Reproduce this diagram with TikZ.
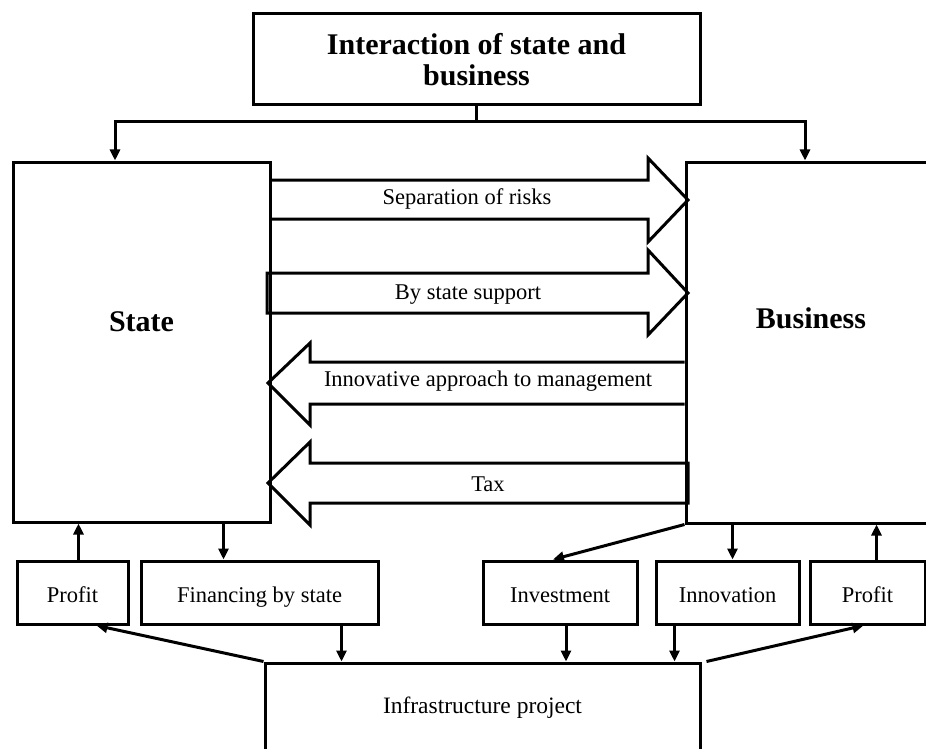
\documentclass[tikz,border=0pt]{standalone}
\usepackage{fontspec}
\setmainfont{Liberation Serif}
\usetikzlibrary{arrows.meta,positioning,calc}

\begin{document}
\begin{tikzpicture}[x=1pt, y=-1pt,
  box/.style={draw, line width=3pt, inner sep=0pt, minimum height=63pt,
    text height=20pt, text depth=0pt, font=\fontsize{22.5}{26}\selectfont},
  bigbox/.style={draw, line width=3pt, inner sep=0pt},
  biglbl/.style={font=\fontsize{30}{33}\selectfont\bfseries, inner sep=0pt},
  lbl/.style={font=\fontsize{22.5}{26}\selectfont, inner sep=0pt},
  flow/.style={line width=3pt, line join=miter},
  arr/.style={-{Triangle[length=11pt,width=10pt]}, line width=3pt}
]
\useasboundingbox (0,0) rectangle (926,749);
\clip (0,0) rectangle (926,749);

% top and the two sides
\node[bigbox, minimum width=447pt, minimum height=91pt, align=center,
  font=\fontsize{30}{31}\selectfont\bfseries] (title) at (476.5,59.5)
  {Interaction of state and\\business};
\node[bigbox, minimum width=257pt, minimum height=360pt] (state) at (141.5,342) {};
\node[bigbox, minimum width=250pt, minimum height=361pt] (business) at (811,342.5) {};
\node[biglbl] (statelbl) at (141.5,322) {State};
\node[biglbl] (buslbl) at (811,318) {Business};

\coordinate (brl) at (115,122);
\coordinate (brr) at (805,122);
\draw[arr] (title.south) |- (brl) -- (brl |- state.north);
\draw[arr] (title.south) |- (brr) -- (brr |- business.north);

% block arrows between state and business
\draw[flow] (state.east |- 0,180) -- (648,180) -- (648,158) -- (688,200)
  -- (648,242) -- (648,219) -- (state.east |- 0,219);
\draw[flow] (267,273) -- (648,273) -- (648,250) -- (688,293)
  -- (648,335) -- (648,313) -- (267,313) -- cycle;
\draw[flow] (business.west |- 0,362) -- (310,362) -- (310,343) -- (268,383)
  -- (310,425) -- (310,404) -- (business.west |- 0,404);
\draw[flow] (688,463) -- (310,463) -- (310,442) -- (268,483)
  -- (310,525) -- (310,503) -- (688,503) -- cycle;
\node[lbl] (risks) at (467,199) {Separation of risks};
\node[lbl] (support) at (468,295) {By state support};
\node[lbl] (manage) at (488,381) {Innovative approach to management};
\node[lbl] (tax) at (488,484) {Tax};

% lower row
\node[box, minimum width=111pt] (profitl) at (72.5,592.5) {Profit};
\node[box, minimum width=237pt] (finance) at (259.5,592.5) {Financing by state};
\node[box, minimum width=154pt] (invest) at (560,592.5) {Investment};
\node[box, minimum width=143pt] (innov) at (727.5,592.5) {Innovation};
\node[box, minimum width=115pt] (profitr) at (867.5,592.5) {Profit};
\node[bigbox, minimum width=435pt, minimum height=90pt,
  font=\fontsize{23.5}{27}\selectfont] (infra) at (482.5,708) {Infrastructure project};

\draw[arr] ([xshift=6pt]profitl.north) -- ([xshift=6pt]profitl.north |- state.south);
\draw[arr] ([xshift=-36pt]finance.north |- state.south) -- ([xshift=-36pt]finance.north);
\draw[arr] ([xshift=82pt]finance.south) -- ([xshift=82pt]finance.south |- infra.north);
\draw[arr] (infra.north west) -- ([xshift=24pt]profitl.south);
\draw[arr] (business.south west) -- ([xshift=-7pt]invest.north);
\draw[arr] ([xshift=5pt]innov.north |- business.south) -- ([xshift=5pt]innov.north);
\draw[arr] ([xshift=9pt]profitr.north) -- ([xshift=9pt]profitr.north |- business.south);
\draw[arr] ([xshift=6pt]invest.south) -- ([xshift=6pt]invest.south |- infra.north);
\draw[arr] ([xshift=-53pt]innov.south) -- ([xshift=-53pt]innov.south |- infra.north);
\draw[arr] ([xshift=5pt]infra.north east) -- ([xshift=-4pt]profitr.south);
\end{tikzpicture}
\end{document}
